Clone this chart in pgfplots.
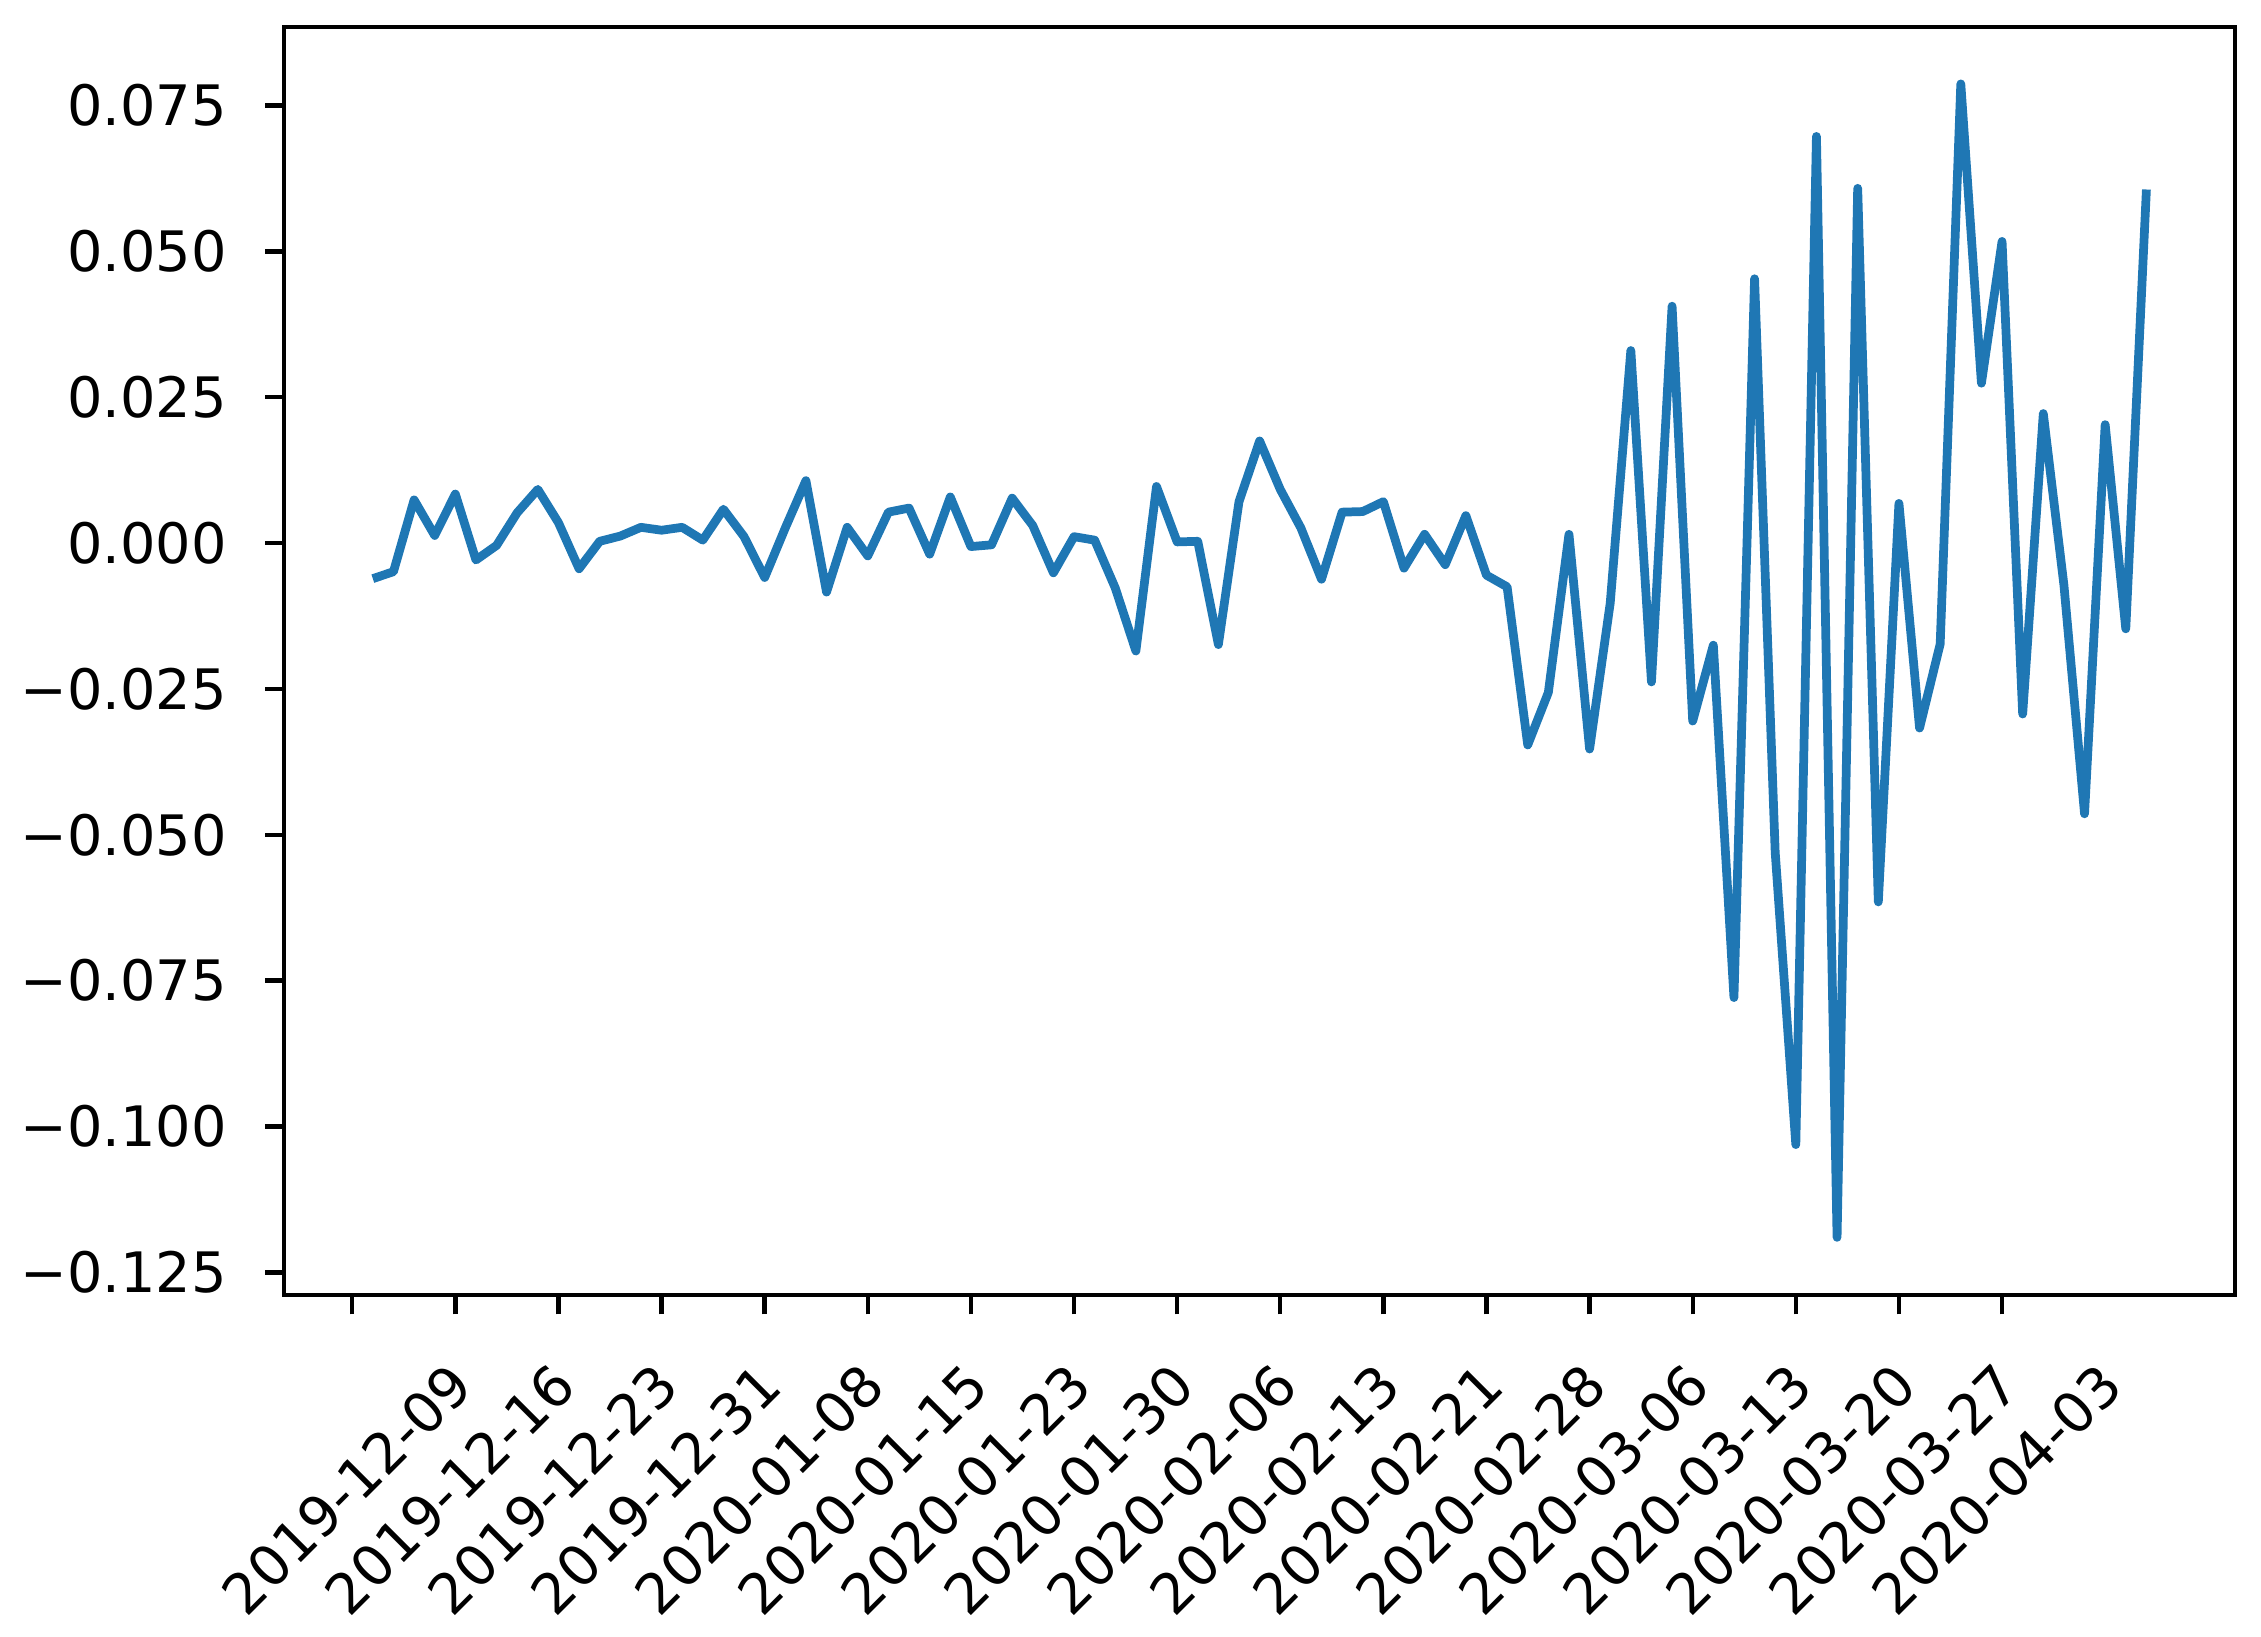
\documentclass[border=0pt]{standalone}
\usepackage{fontspec}
\setmainfont{DejaVu Sans}
\usepackage{pgfplots}
\pgfplotsset{compat=1.18}
\definecolor{mplblue}{HTML}{1F77B4}

\begin{document}
\begin{tikzpicture}
% fixed page frame round the axis box (axis south west sits at the origin)
\path[use as bounding box] (-52pt,-62.5pt) rectangle (361.75pt,237pt);
\begin{axis}[
    at={(0,0)}, anchor=south west,
    scale only axis,
    width=357pt,
    height=232pt,
    xmin=-3.3, xmax=91.3,
    ymin=-0.1289, ymax=0.0884,
    xtick={0,5,...,80},
    xticklabels={2019-12-09,2019-12-16,2019-12-23,2019-12-31,2020-01-08,2020-01-15,2020-01-23,2020-01-30,2020-02-06,2020-02-13,2020-02-21,2020-02-28,2020-03-06,2020-03-13,2020-03-20,2020-03-27,2020-04-03},
    ytick={-0.125,-0.1,-0.075,-0.05,-0.025,0,0.025,0.05,0.075},
    yticklabels={−0.125,−0.100,−0.075,−0.050,−0.025,0.000,0.025,0.050,0.075},
    tick pos=left,
    tick align=outside,
    major tick length=3.5pt,
    every tick/.style={black, line width=0.8pt},
    axis line style={line width=0.8pt},
    tick label style={font=\fontsize{10.2}{12}\selectfont},
    xticklabel style={xshift=-1pt, yshift=-32pt, rotate=45, anchor=center},
    yticklabel style={xshift=-3.5pt},
]
\addplot[mplblue, line width=1.6pt, line join=round] coordinates {
    (1,-0.0061) (2,-0.0049) (3,0.0074) (4,0.0013) (5,0.0084)
    (6,-0.0029) (7,-0.0004) (8,0.0052) (9,0.0092) (10,0.0035)
    (11,-0.0044) (12,0.0003) (13,0.0012) (14,0.0027) (15,0.0022)
    (16,0.0027) (17,0.0005) (18,0.0058) (19,0.0011) (20,-0.0059)
    (21,0.0026) (22,0.0107) (23,-0.0084) (24,0.0027) (25,-0.0022)
    (26,0.0053) (27,0.0060) (28,-0.0019) (29,0.0079) (30,-0.0006)
    (31,-0.0003) (32,0.0077) (33,0.0030) (34,-0.0051) (35,0.0011)
    (36,0.0005) (37,-0.0077) (38,-0.0185) (39,0.0097) (40,0.0002)
    (41,0.0003) (42,-0.0174) (43,0.0071) (44,0.0175) (45,0.0092)
    (46,0.0026) (47,-0.0062) (48,0.0053) (49,0.0054) (50,0.0071)
    (51,-0.0043) (52,0.0015) (53,-0.0037) (54,0.0047) (55,-0.0055)
    (56,-0.0075) (57,-0.0346) (58,-0.0256) (59,0.0015) (60,-0.0353)
    (61,-0.0103) (62,0.0330) (63,-0.0238) (64,0.0406) (65,-0.0305)
    (66,-0.0175) (67,-0.0779) (68,0.0453) (69,-0.0530) (70,-0.1031)
    (71,0.0697) (72,-0.1190) (73,0.0608) (74,-0.0615) (75,0.0068)
    (76,-0.0317) (77,-0.0173) (78,0.0787) (79,0.0274) (80,0.0517)
    (81,-0.0293) (82,0.0222) (83,-0.0072) (84,-0.0464) (85,0.0203)
    (86,-0.0147) (87,0.0606)
};
\end{axis}
\end{tikzpicture}
\end{document}
